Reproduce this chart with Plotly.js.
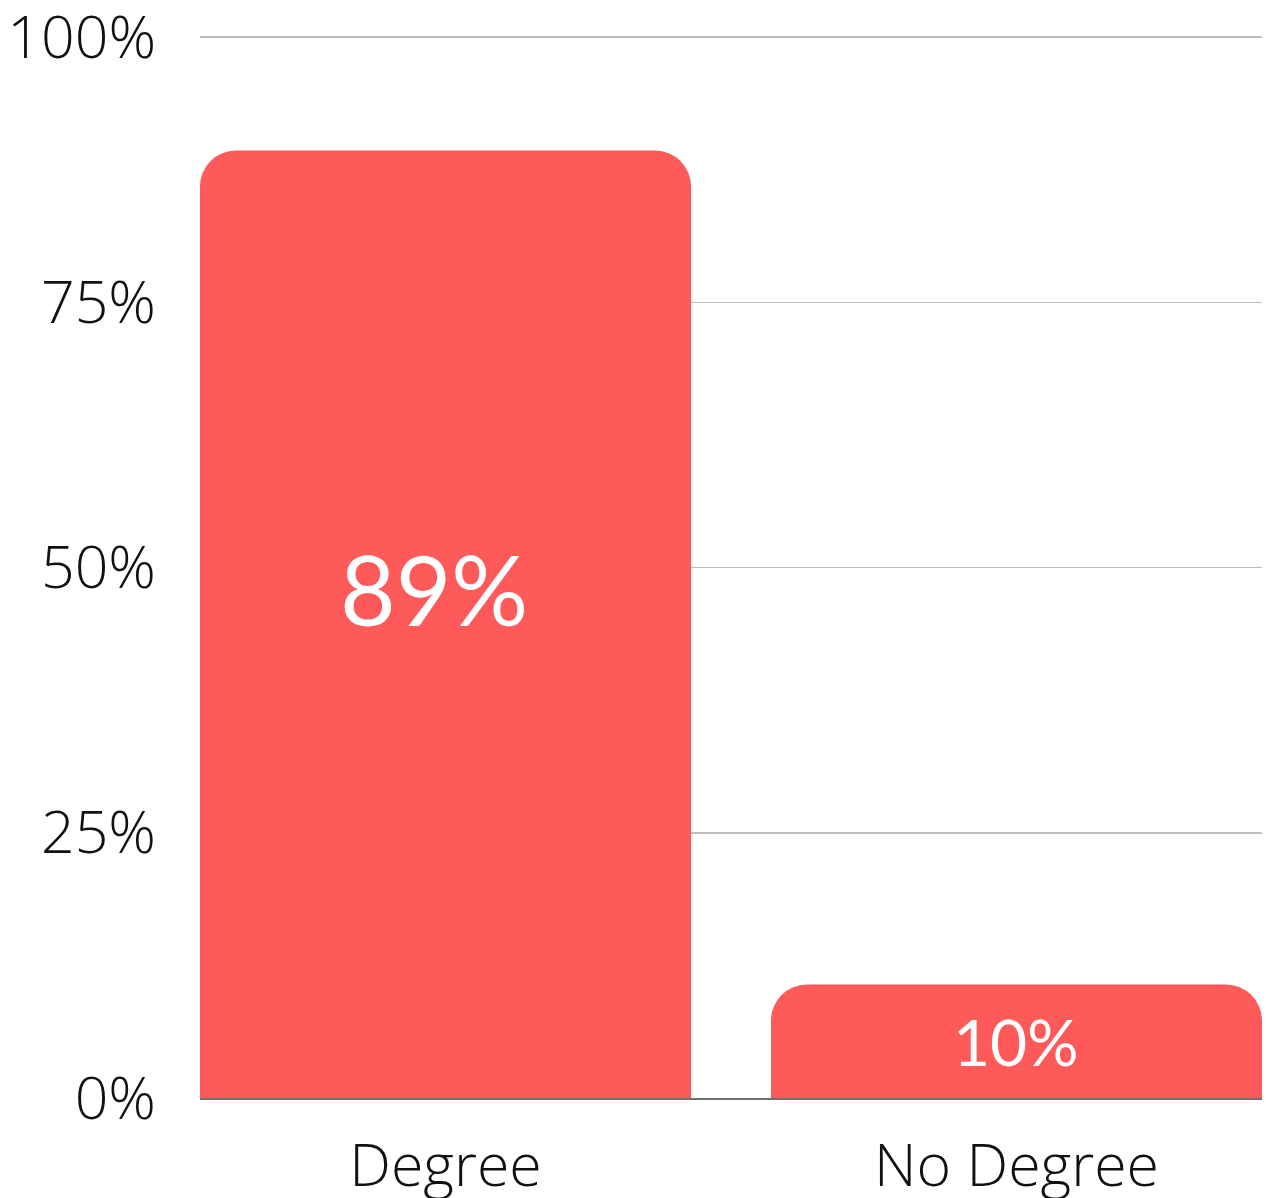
<!DOCTYPE html>
<html>
<head>
<meta charset="utf-8">
<script src="https://cdn.plot.ly/plotly-3.0.1.min.js"></script>
<style>html,body{margin:0;padding:0;background:#fff;}#chart{width:1266px;height:1198px;}</style>
</head>
<body>
<div id="chart"></div>
<script>
const categories = ["Degree", "No Degree"];
const values = [89.3, 10.7];
const valueLabels = ["89%", "10%"];
const labelSizes = [96, 64];
const labelShiftY = [36, 0];
const labelShiftX = [-12, 0];
const yTicks = [0, 25, 50, 75, 100];
const yTickLabels = ["0%", "25%", "50%", "75%", "100%"];

const trace = {
  type: "bar",
  x: categories,
  y: values,
  marker: {color: "#FF5A5A", line: {width: 0}},
  hoverinfo: "none"
};

const annotations = categories.map((c, i) => ({
  x: c,
  y: values[i] / 2,
  xref: "x",
  yref: "y",
  text: valueLabels[i],
  showarrow: false,
  xshift: labelShiftX[i],
  yshift: labelShiftY[i],
  font: {family: "Lato, 'Open Sans', sans-serif", color: "#ffffff", size: labelSizes[i], weight: 400}
}));

const tickFont = {family: "'Open Sans', sans-serif", size: 59, color: "#111111", weight: 300};

const layout = {
  width: 1266,
  height: 1198,
  margin: {l: 200, r: 4, t: 36, b: 100, pad: 0},
  paper_bgcolor: "#ffffff",
  plot_bgcolor: "#ffffff",
  showlegend: false,
  bargap: 0.14,
  barcornerradius: 36,
  font: {family: "'Open Sans', sans-serif", color: "#111111", size: 59, weight: 300},
  annotations: annotations,
  xaxis: {
    type: "category",
    range: [-0.43, 1.43],
    showgrid: false,
    showline: true,
    linecolor: "#707070",
    linewidth: 2,
    ticks: "",
    tickfont: tickFont,
    ticklabelstandoff: 15,
    ticklabeloverflow: "allow",
    fixedrange: true
  },
  yaxis: {
    range: [0, 100.1],
    tickvals: yTicks,
    ticktext: yTickLabels,
    showgrid: true,
    gridcolor: "#bdbdbd",
    gridwidth: 1.5,
    zeroline: false,
    showline: false,
    ticks: "",
    ticklabelstandoff: 43,
    ticklabeloverflow: "allow",
    tickfont: tickFont,
    fixedrange: true
  }
};

Plotly.newPlot("chart", [trace], layout, {displayModeBar: false, staticPlot: true});
</script>
</body>
</html>
